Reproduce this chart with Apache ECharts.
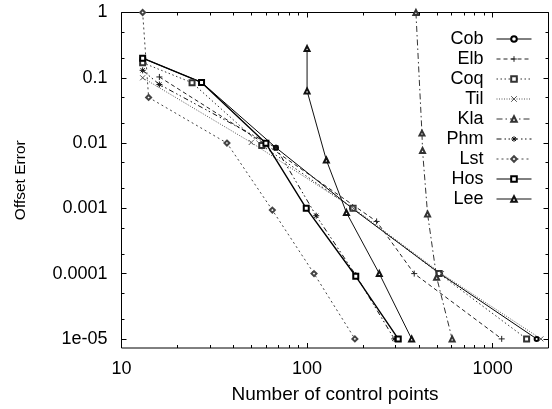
<!DOCTYPE html>
<html><head><meta charset="utf-8">
<script src="https://cdn.jsdelivr.net/npm/echarts@6/dist/echarts.min.js"></script>
<style>html,body{margin:0;padding:0;background:#fff}#c{width:552px;height:409px}</style>
</head><body><div id="c"></div>
<script>
const seriesNames = ['Cob','Elb','Coq','Til','Kla','Phm','Lst','Hos','Lee'];
const cobData = [[13,0.2],[27,0.085],[68,0.0085],[175,0.001],[520,1e-4],[1726,1e-5]];
const elbData = [[16,0.103],[60,0.0095],[237,6.3e-4],[378,1e-4],[1119,1e-5]];
const coqData = [[13,0.17],[24,0.084],[57,0.0092],[177,0.001],[515,1e-4],[1524,1e-5]];
const tilData = [[13,0.1],[50,0.0102],[178,0.001],[530,1e-4],[1820,1e-5]];
const klaData = [[386,1],[416,0.0142],[419,0.0077],[446,8.2e-4],[499,8.8e-5],[605,1e-5]];
const phmData = [[13,0.13],[16,0.079],[68,0.0085],[112,7.7e-4],[183,9.5e-5],[295,1e-5]];
const lstData = [[13,1],[14,0.05],[37,0.01],[65,0.00094],[109,1e-4],[181,1e-5]];
const hosData = [[13,0.2],[27,0.085],[60,0.0099],[99,0.001],[183,9.1e-5],[310,1e-5]];
const leeData = [[100,0.28],[100,0.063],[127,0.0055],[163,8.6e-4],[245,1e-4],[366,1e-5]];

const xMajorTicks = [10,100,1000];
const xTickLabels = ['10','100','1000'];
const xMinorTicks = [20,30,40,50,60,70,80,90,200,300,400,500,600,700,800,900,2000];
const yMajorTicks = [1,0.1,0.01,0.001,0.0001,0.00001];
const yTickLabels = ['1','0.1','0.01','0.001','0.0001','1e-05'];
const yMinorTicks = [0.5,0.2,0.05,0.02,0.005,0.002,0.0005,0.0002,0.00005,0.00002];

const FONT = 'Liberation Sans, Arial, sans-serif';
const XMIN = 10, XMAX = 2000, YMIN = 7.25e-6, YMAX = 1;

function lookup(v, ticks, labels) {
  for (let i = 0; i < ticks.length; i++) {
    if (Math.abs(Math.log10(v) - Math.log10(ticks[i])) < 1e-6) return labels[i];
  }
  return '';
}

function xAx(position, major) {
  return {
    type: 'log', logBase: 10, min: XMIN, max: XMAX, position: position,
    axisLine: {show: false},
    axisTick: {show: true, inside: true, length: major ? 5 : 3, customValues: major ? xMajorTicks : xMinorTicks,
               lineStyle: {color: '#000', width: 1}},
    axisLabel: {show: position === 'bottom' && major, customValues: xMajorTicks, fontSize: 18, color: '#000',
                fontFamily: FONT, margin: 12, formatter: v => lookup(v, xMajorTicks, xTickLabels)},
    splitLine: {show: false}, minorTick: {show: false}, minorSplitLine: {show: false},
    name: (position === 'bottom' && major) ? 'Number of control points' : '',
    nameLocation: 'middle', nameGap: 37,
    nameTextStyle: {fontSize: 19, color: '#000', fontFamily: FONT}
  };
}
function yAx(position, major) {
  return {
    type: 'log', logBase: 10, min: YMIN, max: YMAX, position: position,
    axisLine: {show: false},
    axisTick: {show: true, inside: true, length: major ? 5 : 3, customValues: major ? yMajorTicks : yMinorTicks,
               lineStyle: {color: '#000', width: 1}},
    axisLabel: {show: position === 'left' && major, customValues: yMajorTicks, fontSize: 18, color: '#000',
                fontFamily: FONT, margin: 14, formatter: v => lookup(v, yMajorTicks, yTickLabels)},
    splitLine: {show: false}, minorTick: {show: false}, minorSplitLine: {show: false},
    name: (position === 'left' && major) ? 'Offset Error' : '',
    nameLocation: 'middle', nameGap: 93, nameRotate: 90,
    nameTextStyle: {fontSize: 15.5, color: '#000', fontFamily: FONT}
  };
}

const plusSym = 'path://M0,5L10,5M5,0L5,10';
const xSym = 'path://M0,0L10,10M10,0L0,10';
const starSym = 'path://M0,5L10,5M5,0L5,10M1.5,1.5L8.5,8.5M8.5,1.5L1.5,8.5';

const styles = {
  Cob: {data: cobData, symbol: 'emptyCircle', size: 4, color: '#000', width: 1, type: 'solid'},
  Elb: {data: elbData, symbol: plusSym, size: 6, color: '#222', width: 1, type: [4,3]},
  Coq: {data: coqData, symbol: 'emptyRect', size: 5, color: '#333', width: 1, type: [1.5,2.5]},
  Til: {data: tilData, symbol: xSym, size: 5, color: '#555', width: 1, type: [1,1.5]},
  Kla: {data: klaData, symbol: 'emptyTriangle', size: 5, color: '#333', width: 1, type: [6,3,1.5,3]},
  Phm: {data: phmData, symbol: starSym, size: 6, color: '#111', width: 1, type: [5,3,1.5,2.5,1.5,3]},
  Lst: {data: lstData, symbol: 'emptyDiamond', size: 5, color: '#444', width: 1, type: [2,3]},
  Hos: {data: hosData, symbol: 'emptyRect', size: 5, color: '#000', width: 1.4, type: 'solid'},
  Lee: {data: leeData, symbol: 'emptyTriangle', size: 5, color: '#111', width: 1, type: 'solid'}
};

const series = seriesNames.map(n => {
  const s = styles[n];
  return {
    name: n, type: 'line', data: s.data, xAxisIndex: 0, yAxisIndex: 0,
    symbol: s.symbol, symbolSize: s.size, showAllSymbol: true,
    lineStyle: {color: s.color, width: s.width, type: s.type},
    itemStyle: {color: s.color, borderColor: s.color, borderWidth: 1},
    emphasis: {disabled: true}, animation: false
  };
});

const chart = echarts.init(document.getElementById('c'), null, {renderer: 'canvas'});
chart.setOption({
  animation: false,
  backgroundColor: '#fff',
  grid: {left: 121.5, right: 3.5, top: 12.5, bottom: 54, show: true, borderColor: '#000', borderWidth: 1, backgroundColor: 'transparent'},
  xAxis: [xAx('bottom', true), xAx('bottom', false), xAx('top', true), xAx('top', false)],
  yAxis: [yAx('left', true), yAx('left', false), yAx('right', true), yAx('right', false)],
  legend: {
    data: seriesNames, orient: 'vertical', right: 20, top: 30, align: 'right', padding: 0,
    itemWidth: 35, itemHeight: 7, itemGap: 2,
    lineStyle: {width: 1},
    itemStyle: {borderWidth: 1},
    textStyle: {fontSize: 18, color: '#000', fontFamily: FONT, width: 45, lineHeight: 18, padding: [0, 8, 0, 0]},
    selectedMode: false
  },
  series: series
});
</script></body></html>
